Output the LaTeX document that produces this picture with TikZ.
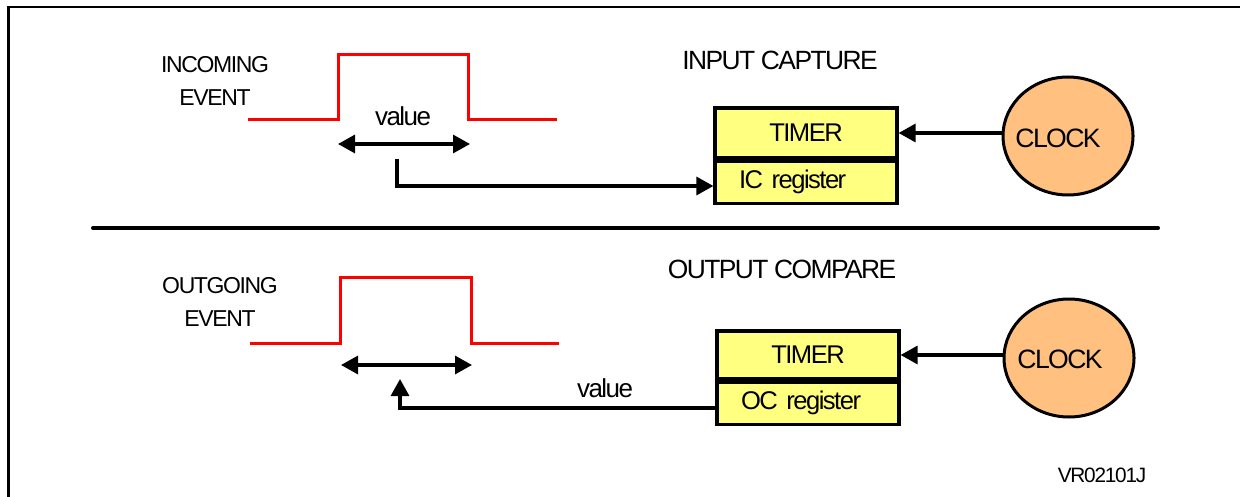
\documentclass[tikz,border=0pt]{standalone}
\usepackage{fontspec}
\setmainfont{Liberation Sans}[LetterSpace=-6]
\usepackage{tikz}
\usetikzlibrary{shapes.geometric, arrows.meta}

\definecolor{tmrfill}{RGB}{255,255,128}
\definecolor{clkfill}{RGB}{255,192,128}

\tikzset{
  lbl/.style={inner sep=0pt, align=center, font=\fontsize{11.5}{16.5}\selectfont},
  ttl/.style={lbl, font=\fontsize{13.2}{15}\selectfont},
  boxtxt/.style={draw, line width=1.6pt, fill=tmrfill, minimum width=91pt, inner sep=0pt, font=\fontsize{12.8}{14}\selectfont},
  regbox/.style={boxtxt, minimum height=21pt, text width=67pt, inner xsep=12pt, align=left},
  clkc/.style={draw, line width=1.5pt, fill=clkfill, ellipse, minimum width=65pt, minimum height=59pt, inner sep=0pt},
  pulse/.style={draw=red, line width=1.5pt},
  conn/.style={line width=1.6pt, -{Triangle[length=8.5pt, width=9pt]}},
  dbl/.style={line width=1.6pt, {Triangle[length=8.5pt, width=9pt]}-{Triangle[length=8.5pt, width=9pt]}}
}

\begin{document}
\begin{tikzpicture}[x=0.5pt,y=0.5pt,yscale=-1,xscale=1]
\useasboundingbox (0,0) rectangle (1240,497);

%Frame
\draw [line width=1.2pt]   (8.5,497) -- (8.5,7) -- (1240,7) ;
%Separator
\draw [line width=2pt,line cap=round]   (93,228) -- (1158,228) ;

%Input capture pulse
\draw [pulse]   (248,120) -- (338,120) -- (338,55) -- (468,55) -- (468,120) -- (557,120) ;
\coordinate (inL) at (338,144);
\coordinate (inR) at (470,144);
\coordinate (inTap) at (397,159);
\coordinate (inRow) at (397,186);
\draw [dbl]   (inL) -- (inR) ;

% Text Node
\node [lbl] (inEvt) at (215,81) {INCOMING\\EVENT};
% Text Node
\node [lbl, font=\fontsize{13}{15}\selectfont] (inVal) at (403,116) {value};
% Text Node
\node [ttl] (icTitle) at (780,60) {INPUT CAPTURE};

%Timer and IC register
\node [boxtxt, minimum height=25pt] (tmr1) at (806,133) {TIMER};
\node [regbox, anchor=north] (icr1) at (tmr1.south) {IC register};
%Clock
\node [clkc] (clk1) at (1068,136) {};
\node [lbl, font=\fontsize{13.3}{14}\selectfont] (clkTxt1) at (1058,138) {CLOCK};

\draw [conn]   (clk1.west |- tmr1.east) -- (tmr1.east) ;
\draw [conn]   (inTap) -- (inRow) -- (icr1.west |- inRow) ;

%Output compare pulse
\draw [pulse]   (250,343) -- (340,343) -- (340,277) -- (471,277) -- (471,343) -- (559,343) ;
\coordinate (outL) at (341,365);
\coordinate (outR) at (472,365);
\coordinate (outTap) at (400,379);
\coordinate (outRow) at (400,408);
\draw [dbl]   (outL) -- (outR) ;

% Text Node
\node [lbl] (outEvt) at (220,302) {OUTGOING\\EVENT};
% Text Node
\node [lbl, font=\fontsize{13}{15}\selectfont] (outVal) at (605,388) {value};
% Text Node
\node [ttl] (ocTitle) at (782,269) {OUTPUT COMPARE};

%Timer and OC register
\node [boxtxt, minimum height=24pt] (tmr2) at (808,355) {TIMER};
\node [regbox, anchor=north] (ocr2) at (tmr2.south) {OC register};
%Clock
\node [clkc] (clk2) at (1069,358) {};
\node [lbl, font=\fontsize{13.3}{14}\selectfont] (clkTxt2) at (1060,359) {CLOCK};

\draw [conn]   (clk2.west |- tmr2.east) -- (tmr2.east) ;
\draw [conn]   (ocr2.west |- outRow) -- (outRow) -- (outTap) ;

% Text Node
\node [lbl, font=\fontsize{10.4}{12}\selectfont] (figId) at (1102,475) {VR02101J};

\end{tikzpicture}
\end{document}
